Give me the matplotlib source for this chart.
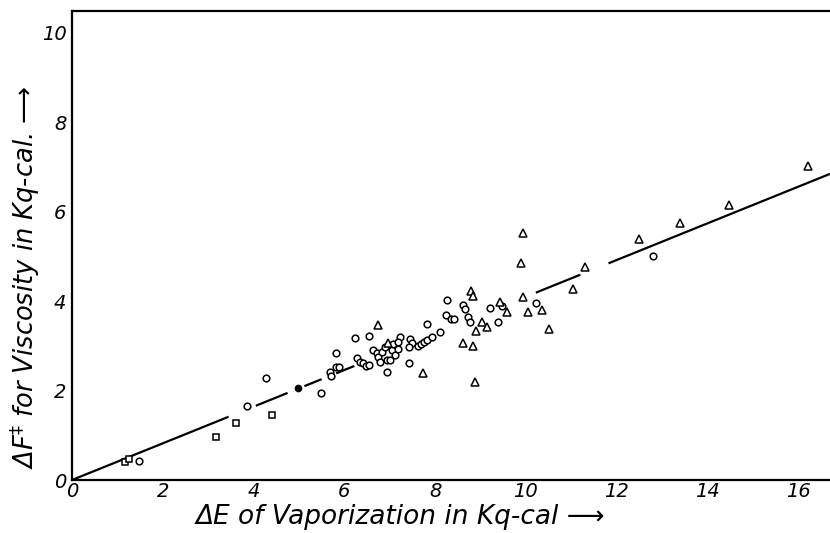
import matplotlib
matplotlib.use("Agg")
import matplotlib.pyplot as plt
import numpy as np

# ---- data ----
circle_x = [1.48, 3.85, 4.27, 5.48, 5.68, 5.70, 5.81, 5.88, 5.81, 6.23, 6.54, 6.28, 6.34, 6.41,
            6.48, 6.54, 6.63, 6.72, 6.74, 6.83, 6.89, 7.05, 6.94, 7.11, 6.78, 7.00, 7.18, 7.07,
            6.94, 7.22, 7.18, 7.42, 7.44, 7.49, 7.42, 7.62, 7.69, 7.75, 7.82, 7.93, 7.82, 8.11,
            8.26, 8.24, 8.35, 8.41, 8.61, 8.66, 8.72, 8.77, 9.21, 9.38, 9.47, 10.22, 12.80]
circle_y = [0.43, 1.66, 2.28, 1.95, 2.42, 2.33, 2.53, 2.53, 2.84, 3.18, 3.22, 2.73, 2.64, 2.62,
            2.55, 2.57, 2.91, 2.84, 2.75, 2.86, 2.98, 2.91, 2.68, 2.80, 2.64, 2.68, 2.93, 3.04,
            2.42, 3.20, 3.09, 2.62, 3.15, 3.06, 2.98, 3.00, 3.04, 3.09, 3.13, 3.20, 3.49, 3.31,
            4.03, 3.69, 3.60, 3.60, 3.91, 3.83, 3.65, 3.53, 3.85, 3.53, 3.89, 3.96, 5.01]

triangle_x = [6.74, 6.96, 7.73, 8.79, 8.83, 8.61, 8.83, 8.90, 8.88, 9.03, 9.14, 9.43, 9.58,
              9.93, 9.93, 9.89, 10.04, 10.35, 10.51, 11.04, 11.30, 12.49, 13.39, 14.47, 16.21]
triangle_y = [3.47, 3.06, 2.39, 4.23, 4.12, 3.06, 3.00, 3.33, 2.19, 3.53, 3.42, 3.98, 3.76,
              4.09, 5.53, 4.85, 3.76, 3.80, 3.38, 4.27, 4.77, 5.39, 5.75, 6.15, 7.02]

square_x = [1.17, 1.26, 3.17, 3.61, 4.41]
square_y = [0.40, 0.47, 0.96, 1.28, 1.45]

dot_x = [4.98]
dot_y = [2.06]

line_slope = 0.41
line_segments = [(0.0, 3.45), (4.05, 4.75), (5.12, 5.50), (5.82, 6.22), (10.22, 11.20), (11.82, 16.70)]

x_ticks = [0, 2, 4, 6, 8, 10, 12, 14, 16]
y_ticks = [0, 2, 4, 6, 8, 10]
x_label = "ΔE of Vaporization in Kq-cal ⟶"
y_label = "ΔF$^{\\ddag}$ for Viscosity in Kq-cal. ⟶"

# ---- figure ----
fig = plt.figure(figsize=(8.30, 5.33), dpi=100)
ax = fig.add_axes([72 / 830, 53 / 533, 1 - 72 / 830, (480 - 11) / 533])
ax.set_xlim(0, 16.7)
ax.set_ylim(0, 10.49)

for x0, x1 in line_segments:
    xs = np.array([x0, x1])
    ax.plot(xs, line_slope * xs, color="black", lw=1.6, solid_capstyle="butt")

mk = dict(linestyle="none", markerfacecolor="white", markeredgecolor="black", markeredgewidth=1.1)
ax.plot(circle_x, circle_y, marker="o", markersize=4.8, **mk)
ax.plot(triangle_x, triangle_y, marker="^", markersize=5.8, **mk)
ax.plot(square_x, square_y, marker="s", markersize=4.6, **mk)
ax.plot(dot_x, dot_y, marker="o", markersize=4.5, linestyle="none", color="black")

for s in ["left", "bottom", "top"]:
    ax.spines[s].set_linewidth(1.6)
ax.spines["right"].set_visible(False)

ax.set_xticks(x_ticks)
ax.set_yticks(y_ticks)
ax.set_xticklabels([str(t) for t in x_ticks], fontsize=14, fontstyle="italic")
ax.set_yticklabels([str(t) for t in y_ticks], fontsize=14, fontstyle="italic")
ax.tick_params(axis="both", length=0)
ax.tick_params(axis="x", pad=1.5)
ax.tick_params(axis="y", pad=4)

fig.text(0.482, 0.030, x_label, ha="center", va="center", fontsize=19, fontstyle="italic")
fig.text(0.030, 0.48, y_label, ha="center", va="center", rotation=90, fontsize=18.5, fontstyle="italic")

fig.savefig("out.png", dpi=100)
